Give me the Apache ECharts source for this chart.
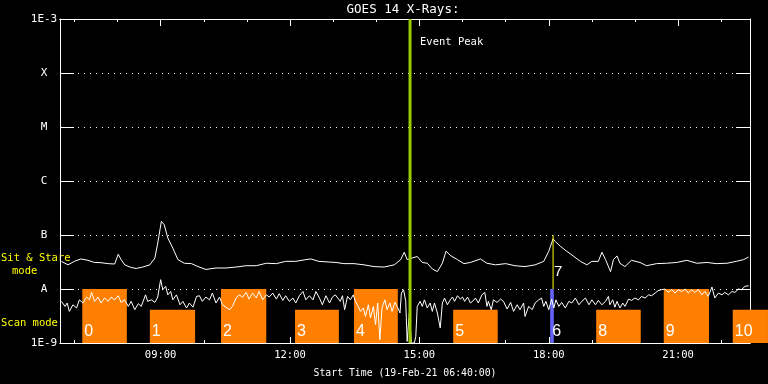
<!DOCTYPE html>
<html><head><meta charset="utf-8">
<script src="https://cdn.jsdelivr.net/npm/echarts@6/dist/echarts.min.js"></script>
<style>html,body{margin:0;padding:0;background:#000;}#c{width:768px;height:384px;}</style>
</head><body><div id="c"></div>
<script>
// time in minutes of day (19-Feb-21), flux in W/m^2
const startMin = 400, endMin = 1360;
const majorTicks = [540, 720, 900, 1080, 1260];
const minorTicks = [420, 480, 600, 660, 780, 840, 960, 1020, 1140, 1200, 1320];
const fluxMin = 1e-9, fluxMax = 1e-3;
const levelLabels = {'-3':'1E-3','-4':'X','-5':'M','-6':'C','-7':'B','-8':'A','-9':'1E-9'};

const upperChannel = [[402,3.25e-8],[411,2.8e-8],[420,3.25e-8],[429,3.6e-8],[439,3.4e-8],[448,3.1e-8],[457,3.07e-8],[467,2.95e-8],[476,2.9e-8],[481,4.4e-8],[485,3.5e-8],[490,2.8e-8],[499,2.5e-8],[506,2.4e-8],[515,2.55e-8],[525,2.8e-8],[532,3.75e-8],[536,7.1e-8],[541,1.79e-7],[545,1.55e-7],[550,8.8e-8],[557,5.7e-8],[564,3.5e-8],[573,3.0e-8],[583,2.95e-8],[592,2.6e-8],[603,2.3e-8],[617,2.45e-8],[631,2.45e-8],[645,2.55e-8],[659,2.7e-8],[673,2.7e-8],[687,3.0e-8],[701,2.95e-8],[714,3.25e-8],[728,3.25e-8],[742,3.5e-8],[749,3.6e-8],[760,3.25e-8],[774,3.16e-8],[784,3.1e-8],[795,2.95e-8],[809,2.95e-8],[823,2.8e-8],[837,2.6e-8],[851,2.55e-8],[865,2.8e-8],[874,3.5e-8],[879,4.8e-8],[883,3.5e-8],[890,3.75e-8],[897,4.0e-8],[904,3.1e-8],[911,3.0e-8],[918,2.35e-8],[925,2.1e-8],[932,3.0e-8],[937,5.0e-8],[944,4.1e-8],[953,3.5e-8],[962,2.95e-8],[971,3.1e-8],[985,3.6e-8],[994,3.0e-8],[1006,2.8e-8],[1020,2.95e-8],[1033,2.7e-8],[1047,2.6e-8],[1061,2.8e-8],[1073,3.25e-8],[1080,5.0e-8],[1086,8.5e-8],[1089,7.6e-8],[1096,6.2e-8],[1105,5.0e-8],[1115,4.0e-8],[1124,3.25e-8],[1133,2.8e-8],[1140,3.25e-8],[1149,3.25e-8],[1154,4.8e-8],[1159,3.5e-8],[1166,2.1e-8],[1170,3.5e-8],[1175,4.1e-8],[1179,3.0e-8],[1186,2.6e-8],[1195,3.4e-8],[1207,3.1e-8],[1216,2.7e-8],[1230,2.95e-8],[1244,3.0e-8],[1258,3.1e-8],[1272,3.4e-8],[1286,3.0e-8],[1300,3.1e-8],[1313,2.95e-8],[1328,3.0e-8],[1341,3.25e-8],[1351,3.5e-8],[1358,3.9e-8]];

const lowerChannel = [[402,5.9e-9],[407,4.76e-9],[410,5.5e-9],[413,3.85e-9],[418,5.1e-9],[423,4.45e-9],[427,6.3e-9],[432,5.5e-9],[437,7.1e-9],[441,6.3e-9],[444,8.65e-9],[448,5.9e-9],[453,7.1e-9],[457,5.5e-9],[462,6.8e-9],[467,5.9e-9],[471,7.1e-9],[476,6.3e-9],[481,7.5e-9],[485,5.65e-9],[490,6.3e-9],[495,4.76e-9],[499,5.9e-9],[504,4.14e-9],[509,5.35e-9],[513,4.76e-9],[519,7.8e-9],[522,5.9e-9],[527,6.3e-9],[532,5.65e-9],[536,7.1e-9],[540,1.49e-8],[543,9.7e-9],[547,1.12e-8],[550,7.8e-9],[554,9.0e-9],[557,6.3e-9],[562,7.8e-9],[567,5.1e-9],[571,5.9e-9],[576,4.45e-9],[580,5.5e-9],[585,4.6e-9],[590,7.3e-9],[594,7.5e-9],[598,5.9e-9],[603,7.1e-9],[608,6.3e-9],[612,8.4e-9],[617,5.5e-9],[622,7.1e-9],[626,5.1e-9],[631,4.6e-9],[636,4.14e-9],[640,4.76e-9],[645,6.8e-9],[649,7.8e-9],[654,7.1e-9],[659,8.65e-9],[663,6.5e-9],[668,8.4e-9],[673,6.8e-9],[677,9.0e-9],[682,6.3e-9],[687,7.8e-9],[691,7.1e-9],[696,8.4e-9],[701,6.5e-9],[705,8.2e-9],[710,6.15e-9],[714,7.5e-9],[719,5.9e-9],[724,6.8e-9],[728,5.5e-9],[733,7.5e-9],[738,9.0e-9],[742,6.3e-9],[747,7.5e-9],[752,6.3e-9],[756,9.0e-9],[761,6.8e-9],[765,5.1e-9],[770,7.5e-9],[775,5.5e-9],[779,7.1e-9],[783,7.8e-9],[790,5.9e-9],[793,7.5e-9],[796,4.14e-9],[800,7.3e-9],[804,6.3e-9],[808,7.8e-9],[811,5.9e-9],[815,4.76e-9],[818,3.85e-9],[822,4.45e-9],[825,3.1e-9],[829,5.1e-9],[832,2.9e-9],[836,4.76e-9],[839,2.18e-9],[842,5.5e-9],[845,1.15e-9],[848,4.45e-9],[852,6.3e-9],[855,4.14e-9],[859,5.5e-9],[862,3.85e-9],[866,5.65e-9],[869,4.76e-9],[873,3.6e-9],[875,8.4e-9],[878,9.7e-9],[881,5.9e-9],[883,1.07e-9],[886,3.6e-9],[889,1.0e-9],[893,1.0e-9],[895,1.32e-9],[897,4.76e-9],[901,5.9e-9],[904,4.76e-9],[907,6.3e-9],[911,4.45e-9],[915,5.5e-9],[918,3.85e-9],[921,5.5e-9],[925,3.6e-9],[929,1.9e-9],[932,5.5e-9],[935,6.8e-9],[939,5.1e-9],[943,6.3e-9],[946,7.1e-9],[949,5.9e-9],[953,7.5e-9],[957,6.5e-9],[960,7.1e-9],[963,5.9e-9],[967,7.1e-9],[971,5.5e-9],[974,5.9e-9],[978,6.8e-9],[982,5.5e-9],[987,7.8e-9],[991,8.65e-9],[994,4.76e-9],[996,5.9e-9],[1000,4.14e-9],[1003,6.3e-9],[1008,5.65e-9],[1013,6.5e-9],[1017,5.9e-9],[1022,4.26e-9],[1027,5.65e-9],[1031,3.85e-9],[1036,5.1e-9],[1040,4.14e-9],[1045,5.5e-9],[1047,3.1e-9],[1052,4.76e-9],[1057,4.14e-9],[1061,5.5e-9],[1066,6.3e-9],[1070,6.8e-9],[1073,4.76e-9],[1076,5.9e-9],[1080,4.14e-9],[1084,6.5e-9],[1087,4.45e-9],[1090,6.3e-9],[1094,4.76e-9],[1098,5.65e-9],[1103,4.45e-9],[1108,5.9e-9],[1112,5.5e-9],[1117,6.8e-9],[1122,5.1e-9],[1126,5.9e-9],[1131,6.8e-9],[1136,5.1e-9],[1140,6.3e-9],[1145,5.1e-9],[1149,6.15e-9],[1154,5.1e-9],[1159,5.9e-9],[1163,7.3e-9],[1165,5.1e-9],[1169,6.3e-9],[1172,4.6e-9],[1175,5.9e-9],[1179,4.45e-9],[1183,5.5e-9],[1186,4.76e-9],[1191,6.5e-9],[1195,6.15e-9],[1200,6.8e-9],[1205,6.3e-9],[1209,7.3e-9],[1214,6.8e-9],[1219,7.8e-9],[1223,7.5e-9],[1228,8.4e-9],[1232,9.3e-9],[1237,9.7e-9],[1242,1.0e-8],[1246,8.65e-9],[1251,9.7e-9],[1256,8.4e-9],[1260,9.7e-9],[1265,9.0e-9],[1270,1.0e-8],[1274,8.4e-9],[1279,9.7e-9],[1283,8.65e-9],[1288,9.7e-9],[1293,7.8e-9],[1297,9.0e-9],[1302,7.3e-9],[1307,1.09e-8],[1311,6.8e-9],[1316,8.4e-9],[1321,7.8e-9],[1325,8.65e-9],[1330,7.8e-9],[1335,9.0e-9],[1339,8.65e-9],[1344,1.0e-8],[1348,9.7e-9],[1353,1.12e-8],[1358,1.15e-8]];

// observing-mode blocks
const barStart = [431, 525, 624, 727, 809, 947, 1082, 1146, 1240, 1336];
const barEnd   = [493, 588, 687, 788, 870, 1009, 1087, 1208, 1303, 1385];
const barTop   = [1e-8, 4.14e-9, 1e-8, 4.14e-9, 1e-8, 4.14e-9, 1e-8, 4.14e-9, 1e-8, 4.14e-9];
const barLabel = ['0','1','2','3','4','5','6','8','9','10'];
const barKind  = ['o','o','o','o','o','o','b','o','o','o'];

const eventPeak = 887;
const flareTime = 1086, flareTop = 1e-7, flareBottom = 1e-8, flareLabel = '7';

const pad = n => (n < 10 ? '0' : '') + n;
const fmtTime = m => pad(Math.floor(m / 60)) + ':' + pad(Math.round(m % 60));
const W = {color: '#fff', width: 1};
const MONO = 'DejaVu Sans Mono';

function xAx(pos, ticks, len, labels, extra) {
  return Object.assign({
    type: 'value', position: pos, min: startMin, max: endMin,
    axisLine: {show: true, onZero: false, lineStyle: W},
    axisTick: {show: true, inside: true, length: len, customValues: ticks, lineStyle: W},
    axisLabel: labels ? {show: true, customValues: ticks, formatter: fmtTime, color: '#fff', fontFamily: MONO, fontSize: 10.5, margin: 7}
                      : {show: false},
    splitLine: {show: false}
  }, extra || {});
}
function yAx(pos, labels) {
  return {
    type: 'log', logBase: 10, min: fluxMin, max: fluxMax, splitNumber: 6, position: pos,
    axisLine: {show: true, onZero: false, lineStyle: W},
    axisTick: {show: true, inside: true, length: 14, lineStyle: W},
    axisLabel: labels ? {show: true, color: '#fff', fontFamily: MONO, fontSize: 11, align: 'center', margin: 16,
      formatter: v => levelLabels[String(Math.round(Math.log10(v)))] || ''} : {show: false},
    splitLine: labels ? {show: true, lineStyle: {color: '#fff', width: 1, type: [1, 5]}} : {show: false}
  };
}

const chart = echarts.init(document.getElementById('c'), null, {renderer: 'canvas'});
chart.setOption({
  backgroundColor: '#000',
  animation: false,
  grid: {left: 60, right: 18, top: 19, bottom: 41},
  xAxis: [
    xAx('bottom', majorTicks, 6, true, {name: 'Start Time (19-Feb-21 06:40:00)', nameLocation: 'middle', nameGap: 25,
      nameTextStyle: {color: '#fff', fontFamily: MONO, fontSize: 9.8}}),
    xAx('bottom', minorTicks, 3, false),
    xAx('top', majorTicks, 7, false),
    xAx('top', minorTicks, 3, false)
  ],
  yAxis: [yAx('left', true), yAx('right', false)],
  graphic: [
    {type: 'text', x: 403, y: 3, style: {text: 'GOES 14 X-Rays:', fill: '#fff', font: '12.5px ' + MONO, align: 'center'}},
    {type: 'text', x: 1, y: 253, style: {text: 'Sit & Stare', fill: '#ffff00', font: '10.5px ' + MONO}},
    {type: 'text', x: 12, y: 266, style: {text: 'mode', fill: '#ffff00', font: '10.5px ' + MONO}},
    {type: 'text', x: 1, y: 318, style: {text: 'Scan mode', fill: '#ffff00', font: '10.5px ' + MONO}}
  ],
  series: [
    {
      type: 'custom', name: 'modes', xAxisIndex: 0, yAxisIndex: 0, clip: false, z: 1, silent: true,
      data: barStart.map((s, i) => [s, barEnd[i], barTop[i], i]),
      encode: {x: [0, 1], y: 2},
      renderItem: function (params, api) {
        const i = api.value(3);
        const p0 = api.coord([api.value(0), api.value(2)]);
        const p1 = api.coord([api.value(1), fluxMin]);
        return {type: 'group', children: [
          {type: 'rect', shape: {x: p0[0], y: p0[1], width: p1[0] - p0[0], height: p1[1] - p0[1]},
           style: {fill: barKind[i] === 'b' ? '#6464ff' : '#ff8000'}},
          {type: 'text', x: p0[0] + 2, y: p1[1] - 3,
           style: {text: barLabel[i], fill: '#fff', font: '16px Liberation Sans', verticalAlign: 'bottom'}}
        ]};
      }
    },
    {type: 'line', name: 'upper', data: upperChannel, showSymbol: false, symbol: 'none', z: 3,
     lineStyle: {color: '#fff', width: 1}, silent: true},
    {type: 'line', name: 'lower', data: lowerChannel, showSymbol: false, symbol: 'none', z: 3,
     lineStyle: {color: '#fff', width: 1}, silent: true},
    {
      type: 'custom', name: 'annotations', clip: false, z: 5, silent: true,
      data: [[eventPeak, flareTime]],
      encode: {x: 0},
      renderItem: function (params, api) {
        const e0 = api.coord([eventPeak, fluxMax]);
        const e1 = api.coord([eventPeak, fluxMin]);
        const f0 = api.coord([flareTime, flareTop]);
        const f1 = api.coord([flareTime, flareBottom]);
        return {type: 'group', children: [
          {type: 'line', shape: {x1: e0[0], y1: e0[1], x2: e1[0], y2: e1[1]}, style: {stroke: '#9ccc00', lineWidth: 3}},
          {type: 'text', x: e0[0] + 10, y: e0[1] + 18, style: {text: 'Event Peak', fill: '#fff', font: '10.5px ' + MONO}},
          {type: 'line', shape: {x1: f0[0], y1: f0[1], x2: f1[0], y2: f1[1]}, style: {stroke: '#ffff00', lineWidth: 1}},
          {type: 'text', x: f1[0] + 1, y: f1[1] - 10, style: {text: flareLabel, fill: '#fff', font: '15px Liberation Sans', verticalAlign: 'bottom'}}
        ]};
      }
    }
  ]
});
</script>
</body></html>
